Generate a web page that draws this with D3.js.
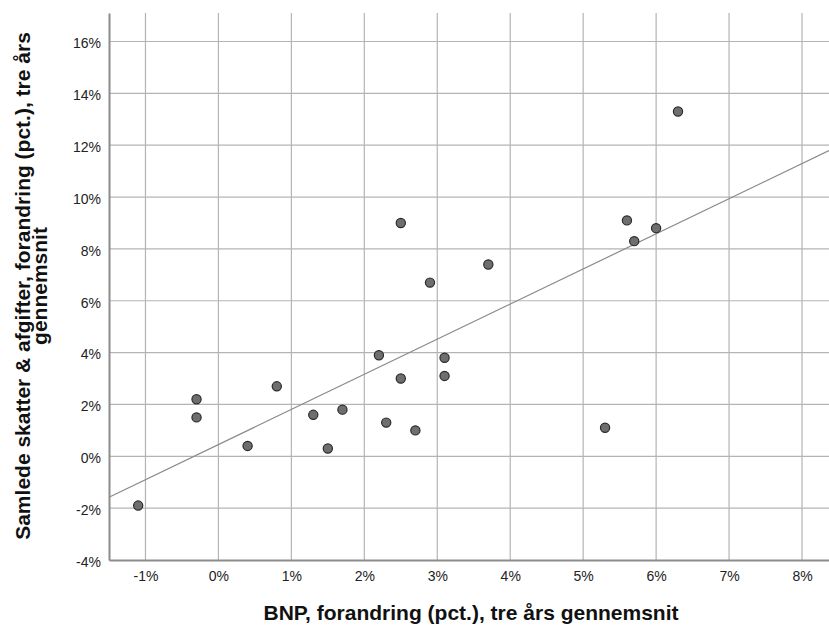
<!DOCTYPE html>
<html>
<head>
<meta charset="utf-8">
<script src="https://cdn.jsdelivr.net/npm/d3@7"></script>
<style>
  html, body { margin: 0; padding: 0; background: #fff; }
  svg { display: block; }
  text { font-family: "Liberation Sans", Arial, sans-serif; }
</style>
</head>
<body>
<script>
// GDP change (x, %) and tax change (y, %) — three-year averages
const gdpChange = [-1.1, -0.3, -0.3, 0.4, 0.8, 1.3, 1.5, 1.7, 2.2, 2.3, 2.5, 2.5, 2.7, 2.9, 3.1, 3.1, 3.7, 5.3, 5.6, 5.7, 6.0, 6.3];
const taxChange = [-1.9, 2.2, 1.5, 0.4, 2.7, 1.6, 0.3, 1.8, 3.9, 1.3, 9.0, 3.0, 1.0, 6.7, 3.8, 3.1, 7.4, 1.1, 9.1, 8.3, 8.8, 13.3];
const xTicks = [-1, 0, 1, 2, 3, 4, 5, 6, 7, 8];
const yTicks = [-4, -2, 0, 2, 4, 6, 8, 10, 12, 14, 16];
const xDomain = [-1.5, 8.37];
const yDomain = [-4, 17.1];
const xTitle = "BNP, forandring (pct.), tre års gennemsnit";
const yTitleLines = ["Samlede skatter & afgifter, forandring (pct.), tre års", "gennemsnit"];

(function () {
const W = 829, H = 626;
const pL = 109, pR = 829, pT = 13, pB = 560;

const svg = d3.select("body").append("svg").attr("width", W).attr("height", H);

const x = d3.scaleLinear().domain(xDomain).range([pL, pR]);
const y = d3.scaleLinear().domain(yDomain).range([pB, pT]);

// grid
const grid = svg.append("g");
grid.selectAll("line.v").data(xTicks).join("line")
  .attr("x1", d => x(d)).attr("x2", d => x(d))
  .attr("y1", pT).attr("y2", pB)
  .attr("stroke", "#b4b4b4").attr("stroke-width", 1.2);
grid.selectAll("line.h").data(yTicks.filter(d => d > yDomain[0])).join("line")
  .attr("x1", pL).attr("x2", pR)
  .attr("y1", d => y(d)).attr("y2", d => y(d))
  .attr("stroke", "#b4b4b4").attr("stroke-width", 1.2);

// axes
const xAxis = d3.axisBottom(x).tickValues(xTicks).tickSize(0).tickPadding(11).tickFormat(d => d + "%");
const yAxis = d3.axisLeft(y).tickValues(yTicks).tickSize(0).tickPadding(8).tickFormat(d => d + "%");

const gx = svg.append("g").attr("transform", `translate(0,${pB})`).call(xAxis);
const gy = svg.append("g").attr("transform", `translate(${pL},0)`).call(yAxis);
[gx, gy].forEach(g => {
  g.select(".domain").attr("stroke", "#8c8c8c").attr("stroke-width", 2);
  g.selectAll("text").attr("font-size", 14).attr("fill", "#222")
    .attr("font-family", "'Liberation Sans', Arial, sans-serif");
});
gy.selectAll("text").attr("dy", "0.45em");

// regression line (least squares from data)
const mx = d3.mean(gdpChange), my = d3.mean(taxChange);
let sxy = 0, sxx = 0;
gdpChange.forEach((v, i) => { sxy += (v - mx) * (taxChange[i] - my); sxx += (v - mx) * (v - mx); });
const slope = sxy / sxx, intercept = my - slope * mx;
svg.append("line")
  .attr("x1", x(xDomain[0])).attr("y1", y(intercept + slope * xDomain[0]))
  .attr("x2", x(xDomain[1])).attr("y2", y(intercept + slope * xDomain[1]))
  .attr("stroke", "#8a8a8a").attr("stroke-width", 1.2);

// points
svg.append("g").selectAll("circle").data(gdpChange.map((v, i) => [v, taxChange[i]])).join("circle")
  .attr("cx", d => x(d[0])).attr("cy", d => y(d[1])).attr("r", 4.6)
  .attr("fill", "#6e6e6e").attr("stroke", "#2a2a2a").attr("stroke-width", 1.2);

// titles
svg.append("text").attr("x", 471).attr("y", 620)
  .attr("text-anchor", "middle").attr("font-size", 21).attr("font-weight", "bold").attr("fill", "#111")
  .text(xTitle);

const yt = svg.append("text").attr("transform", `translate(30,286) rotate(-90)`)
  .attr("text-anchor", "middle").attr("font-size", 21).attr("font-weight", "bold").attr("fill", "#111");
yTitleLines.forEach((t, i) => yt.append("tspan").attr("x", 0).attr("dy", i === 0 ? 0 : 17).text(t));
})();
</script>
</body>
</html>
